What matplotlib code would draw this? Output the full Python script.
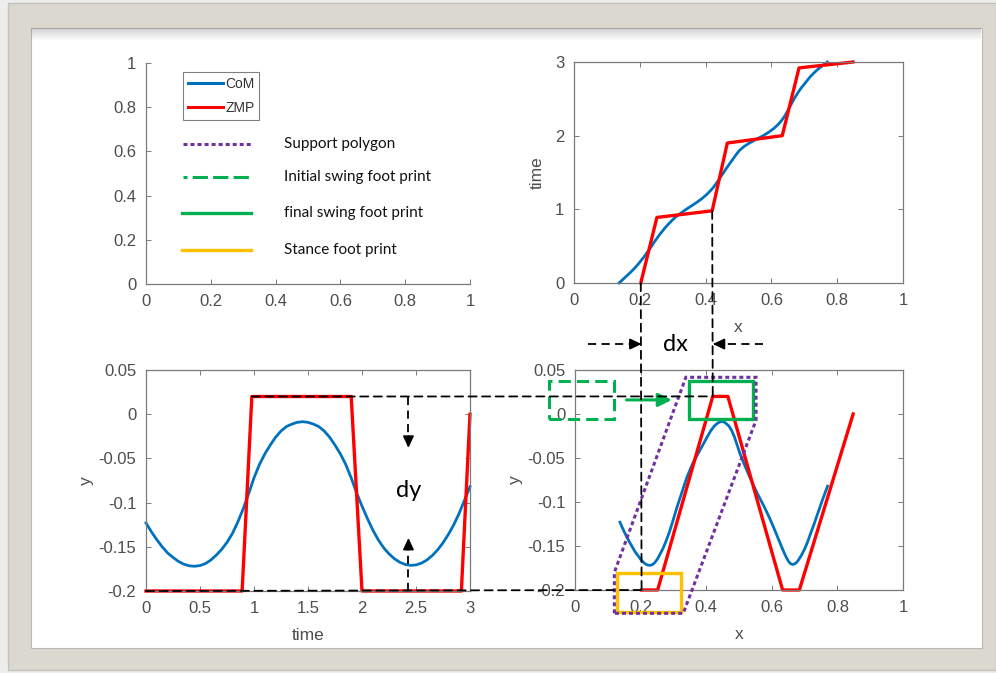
import matplotlib
matplotlib.use("Agg")
import matplotlib.pyplot as plt
from matplotlib.patches import Rectangle, Polygon, ConnectionPatch
from matplotlib.lines import Line2D
from matplotlib.ticker import FuncFormatter

plt.rcParams["font.family"] = ["Liberation Sans", "DejaVu Sans"]
plt.rcParams["axes.unicode_minus"] = False

# CoM trajectory, sampled every 0.05 s
t_com = [0.00, 0.05, 0.10, 0.15, 0.20, 0.25, 0.30, 0.35, 0.40, 0.45,
         0.50, 0.55, 0.60, 0.65, 0.70, 0.75, 0.80, 0.85, 0.90, 0.95,
         1.00, 1.05, 1.10, 1.15, 1.20, 1.25, 1.30, 1.35, 1.40, 1.45,
         1.50, 1.55, 1.60, 1.65, 1.70, 1.75, 1.80, 1.85, 1.90, 1.95,
         2.00, 2.05, 2.10, 2.15, 2.20, 2.25, 2.30, 2.35, 2.40, 2.45,
         2.50, 2.55, 2.60, 2.65, 2.70, 2.75, 2.80, 2.85, 2.90, 2.95, 3.00]
x_com = [0.137, 0.149, 0.161, 0.173, 0.184, 0.194, 0.203, 0.212, 0.220, 0.228,
         0.236, 0.243, 0.251, 0.259, 0.268, 0.277, 0.287, 0.298, 0.310, 0.325,
         0.341, 0.358, 0.375, 0.390, 0.403, 0.414, 0.424, 0.432, 0.440, 0.447,
         0.455, 0.462, 0.470, 0.478, 0.486, 0.494, 0.503, 0.516, 0.533, 0.554,
         0.575, 0.593, 0.608, 0.620, 0.630, 0.638, 0.645, 0.651, 0.657, 0.663,
         0.669, 0.676, 0.683, 0.691, 0.700, 0.709, 0.718, 0.729, 0.741, 0.755, 0.770]
y_com = [-0.123, -0.133, -0.142, -0.150, -0.157, -0.162, -0.1665, -0.1697, -0.1715, -0.1720,
         -0.1712, -0.1690, -0.1650, -0.1595, -0.1530, -0.1450, -0.1350, -0.1220, -0.1070, -0.0900,
         -0.0720, -0.0570, -0.0450, -0.0350, -0.0260, -0.0190, -0.0140, -0.0112, -0.0092, -0.0085,
         -0.0092, -0.0112, -0.0140, -0.0190, -0.0260, -0.0350, -0.0450, -0.0570, -0.0720, -0.0890,
         -0.1040, -0.1180, -0.1310, -0.1420, -0.1510, -0.1580, -0.1635, -0.1675, -0.1700, -0.1710,
         -0.1705, -0.1685, -0.1650, -0.1600, -0.1535, -0.1455, -0.1360, -0.1250, -0.1120, -0.0970, -0.0820]

# ZMP reference (corner points)
t_zmp = [0.0, 0.89, 0.98, 1.9, 2.0, 2.92, 3.0]
x_zmp = [0.203, 0.252, 0.42, 0.466, 0.633, 0.684, 0.848]
y_zmp = [-0.2, -0.2, 0.02, 0.02, -0.2, -0.2, 0.0]

# foot prints in the x-y plane: (x, y, width, height)
init_swing = (-0.078, -0.006, 0.197, 0.0435)
final_swing = (0.349, -0.006, 0.193, 0.0435)
stance = (0.127, -0.2246, 0.196, 0.0443)
support_poly = [(0.120, -0.2265), (0.120, -0.180), (0.338, 0.0417),
                (0.552, 0.0417), (0.552, -0.007), (0.330, -0.2265)]

legend_labels = ["Support polygon", "Initial swing foot print",
                 "final swing foot print", "Stance foot print"]

blue = "#0072BD"
red = "#FF0000"
purple = "#7030A0"
green = "#00B050"
yellow = "#FFC000"
dash = (0, (4.5, 3))

W, H = 996, 673
fig = plt.figure(figsize=(W / 100, H / 100), dpi=100)
fig.patch.set_facecolor("#ededed")


def fr(x0, y0, x1, y1):
    # pixel box -> figure fraction rectangle
    return (x0 / W, 1 - y1 / H), (x1 - x0) / W, (y1 - y0) / H


# frame and white panel
xy, w, h = fr(7.6, 3, 996, 670)
fig.patches.append(Rectangle(xy, w, h, transform=fig.transFigure, facecolor="#dbd8d0",
                             edgecolor="#c4c2bc", lw=1, zorder=-10))
xy, w, h = fr(30.5, 28, 981.6, 648)
fig.patches.append(Rectangle(xy, w, h, transform=fig.transFigure, facecolor="white",
                             edgecolor="#b8b8b8", lw=0.8, zorder=-9))
for i in range(10):
    xy, w, h = fr(31, 28 + i * 1.2, 981, 29.2 + i * 1.2)
    fig.patches.append(Rectangle(xy, w, h, transform=fig.transFigure, facecolor="#808080",
                                 edgecolor="none", alpha=0.35 * (1 - i / 10), zorder=-8))

ax_tl = fig.add_axes([146 / W, 1 - 284 / H, 324 / W, 221 / H])
ax_tr = fig.add_axes([574 / W, 1 - 283 / H, 329 / W, 221 / H])
ax_bl = fig.add_axes([146 / W, 1 - 591 / H, 324 / W, 221 / H])
ax_br = fig.add_axes([575 / W, 1 - 590 / H, 328 / W, 220 / H])

fmt = FuncFormatter(lambda v, p: f"{v:g}")
lab_kw = dict(fontsize=12.5, color="#4d4d4d")


def style(ax, box=True):
    for s in ax.spines.values():
        s.set_color("#7a7a7a")
        s.set_linewidth(0.9)
    if not box:
        ax.spines["top"].set_visible(False)
        ax.spines["right"].set_visible(False)
    ax.tick_params(direction="in", length=3.5, width=0.7, color="#7a7a7a",
                   labelcolor="#4d4d4d", labelsize=12, pad=7, top=box, right=box)
    ax.xaxis.set_major_formatter(fmt)
    ax.yaxis.set_major_formatter(fmt)


xt = [0, 0.2, 0.4, 0.6, 0.8, 1]
yt = [-0.2, -0.15, -0.1, -0.05, 0, 0.05]

# top left: legend panel
style(ax_tl, box=False)
ax_tl.set_xlim(0, 1)
ax_tl.set_ylim(0, 1)
ax_tl.set_xticks(xt)
ax_tl.set_yticks(xt)
h_com = Line2D([], [], color=blue, lw=2.2)
h_zmp = Line2D([], [], color=red, lw=2.2)
leg = ax_tl.legend([h_com, h_zmp], ["CoM", "ZMP"], loc="upper left",
                   bbox_to_anchor=(0.114, 0.958), borderaxespad=0, fontsize=10,
                   handlelength=2.5, handletextpad=0.2, labelspacing=0.7,
                   borderpad=0.35, fancybox=False, framealpha=1)
leg.get_frame().set_edgecolor("#808080")
leg.get_frame().set_linewidth(0.8)
for t in leg.get_texts():
    t.set_color("#333333")

entry_y = [0.633, 0.484, 0.321, 0.154]
ax_tl.plot([0.114, 0.33], [entry_y[0]] * 2, color=purple, lw=2.2, ls=(0, (1.3, 1.0)))
ax_tl.plot([0.114, 0.33], [entry_y[1]] * 2, color=green, lw=2.2,
           ls=(0, (1.3, 1.7, 5, 1.7, 5, 1.7, 5, 1.7)))
ax_tl.plot([0.111, 0.324], [entry_y[2]] * 2, color=green, lw=2.4)
ax_tl.plot([0.111, 0.324], [entry_y[3]] * 2, color=yellow, lw=2.4)
for y, lab in zip(entry_y, legend_labels):
    ax_tl.text(0.426, y, lab, fontsize=11, family=["Lato", "DejaVu Sans"],
               va="center", ha="left", color="#111111")

# top right: x over time
style(ax_tr)
ax_tr.plot(x_com, t_com, color=blue, lw=2.0, clip_on=False)
ax_tr.plot(x_zmp, t_zmp, color=red, lw=2.4, clip_on=False)
ax_tr.set_xlim(0, 1)
ax_tr.set_ylim(0, 3)
ax_tr.set_xticks(xt)
ax_tr.set_yticks([0, 1, 2, 3])
ax_tr.set_xlabel("x", labelpad=9, **lab_kw)
ax_tr.set_ylabel("time", labelpad=7, **lab_kw)

# bottom left: y over time
style(ax_bl)
ax_bl.plot(t_com, y_com, color=blue, lw=2.0, clip_on=False)
ax_bl.plot(t_zmp, y_zmp, color=red, lw=2.4, clip_on=False)
ax_bl.set_xlim(0, 3)
ax_bl.set_ylim(-0.2, 0.05)
ax_bl.set_xticks([0, 0.5, 1, 1.5, 2, 2.5, 3])
ax_bl.set_yticks(yt)
ax_bl.set_xlabel("time", labelpad=9, **lab_kw)
ax_bl.set_ylabel("y", labelpad=3, **lab_kw)

# bottom right: x-y path
style(ax_br)
ax_br.plot(x_com, y_com, color=blue, lw=2.0, clip_on=False)
ax_br.plot(x_zmp, y_zmp, color=red, lw=2.4, clip_on=False)
ax_br.set_xlim(0, 1)
ax_br.set_ylim(-0.2, 0.05)
ax_br.set_xticks(xt)
ax_br.set_yticks(yt)
ax_br.set_xlabel("x", labelpad=9, **lab_kw)
ax_br.set_ylabel("y", labelpad=3, **lab_kw)

# foot prints and support polygon
x0, y0, w, h = init_swing
ax_br.add_patch(Rectangle((x0, y0), w, h, fill=False, ec=green, lw=2.2, ls=(0, (4, 2)),
                          clip_on=False, zorder=4))
x0, y0, w, h = final_swing
ax_br.add_patch(Rectangle((x0, y0), w, h, fill=False, ec=green, lw=2.4, clip_on=False, zorder=4))
x0, y0, w, h = stance
ax_br.add_patch(Rectangle((x0, y0), w, h, fill=False, ec=yellow, lw=2.4, clip_on=False, zorder=4))
ax_br.add_patch(Polygon(support_poly, closed=True, fill=False, ec=purple, lw=2.2,
                        ls=(0, (1.3, 1.0)), clip_on=False, zorder=5))
ax_br.annotate("", xy=(0.295, 0.016), xytext=(0.157, 0.016), annotation_clip=False,
               arrowprops=dict(arrowstyle="-|>,head_length=0.8,head_width=0.4",
                               color=green, lw=2.2, shrinkA=0, shrinkB=0))


def link(axA, pA, axB, pB):
    cp = ConnectionPatch(xyA=pA, coordsA=axA.transData, xyB=pB, coordsB=axB.transData,
                         color="k", lw=1.3, linestyle=dash, zorder=6)
    fig.add_artist(cp)


# guide lines between panels
link(ax_bl, (t_zmp[2], y_zmp[2]), ax_br, (x_zmp[2], y_zmp[2]))
link(ax_bl, (t_zmp[0], y_zmp[0]), ax_br, (x_zmp[0], y_zmp[0]))
link(ax_tr, (x_zmp[0], t_zmp[0]), ax_br, (x_zmp[0], y_zmp[0]))
link(ax_tr, (x_zmp[2], t_zmp[2]), ax_br, (x_zmp[2], y_zmp[2]))


def head(ax, tip, back):
    ax.annotate("", xy=tip, xytext=back, annotation_clip=False,
                arrowprops=dict(arrowstyle="-|>,head_length=0.7,head_width=0.33",
                                color="k", lw=1.2, shrinkA=0, shrinkB=0), zorder=7)


# dy marker
t_dy = 2.43
ax_bl.plot([t_dy, t_dy], [y_zmp[2], -0.038], color="k", lw=1.3, ls=dash, clip_on=False, zorder=6)
ax_bl.plot([t_dy, t_dy], [y_zmp[0], -0.14], color="k", lw=1.3, ls=dash, clip_on=False, zorder=6)
head(ax_bl, (t_dy, -0.038), (t_dy, -0.025))
head(ax_bl, (t_dy, -0.14), (t_dy, -0.153))
ax_bl.text(t_dy, -0.086, "dy", fontsize=17, family=["Lato", "DejaVu Sans"],
           ha="center", va="center", color="black")

# dx marker
y_dx = 0.0795
ax_br.plot([0.04, x_zmp[0]], [y_dx, y_dx], color="k", lw=1.3, ls=dash, clip_on=False, zorder=6)
ax_br.plot([0.573, x_zmp[2]], [y_dx, y_dx], color="k", lw=1.3, ls=dash, clip_on=False, zorder=6)
head(ax_br, (x_zmp[0], y_dx), (x_zmp[0] - 0.035, y_dx))
head(ax_br, (x_zmp[2], y_dx), (x_zmp[2] + 0.035, y_dx))
ax_br.text(0.305, y_dx, "dx", fontsize=17, family=["Lato", "DejaVu Sans"],
           ha="center", va="center", color="black")

fig.savefig("out.png", dpi=100, facecolor=fig.get_facecolor())
